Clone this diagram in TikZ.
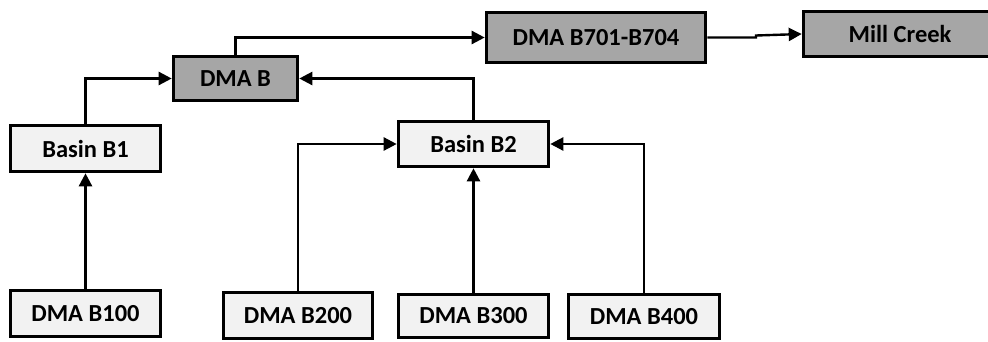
\documentclass[tikz,border=0pt]{standalone}
\usepackage{fontspec}
\setmainfont{Carlito}
\usetikzlibrary{arrows.meta}
\definecolor{darkfill}{HTML}{A6A6A6}
\definecolor{lightfill}{HTML}{F2F2F2}
\begin{document}
\begin{tikzpicture}[x=1pt,y=-1pt,
  box/.style={draw=black,line width=3.6pt,rectangle,inner sep=0pt,
    font=\fontsize{24.5}{28}\selectfont\bfseries},
  dbox/.style={box,fill=darkfill},
  lbox/.style={box,fill=lightfill},
  conn/.style={line width=2.4pt,-{Triangle[length=13pt,width=13pt]}}]
\useasboundingbox (0,0) rectangle (988,341);
\clip (0,0) rectangle (988,341);
\node[dbox,minimum width=124pt,minimum height=44pt] (dmab) at (235.5,78.5) {DMA B};
\node[dbox,minimum width=219pt,minimum height=50pt] (b701) at (596,37.5) {DMA B701-B704};
\node[dbox,minimum width=193pt,minimum height=45pt] (mill) at (900,34) {Mill Creek};
\node[lbox,minimum width=150pt,minimum height=46pt] (bb1) at (85.5,148.5) {Basin B1};
\node[lbox,minimum width=150pt,minimum height=45pt] (bb2) at (473.5,144) {Basin B2};
\node[lbox,minimum width=150pt,minimum height=46pt] (b100) at (85.5,313.5) {DMA B100};
\node[lbox,minimum width=149pt,minimum height=46pt] (b200) at (298,315.5) {DMA B200};
\node[lbox,minimum width=150pt,minimum height=43pt] (b300) at (473.5,316) {DMA B300};
\node[lbox,minimum width=151pt,minimum height=44pt] (b400) at (644,316.5) {DMA B400};
\coordinate (jog) at (756,0);
\draw[conn] (dmab.north) |- (b701.west);
\draw[conn] (b701.east) -- (b701.east -| jog) -- ([yshift=-1.5pt]jog |- mill.west) -- (mill.west);
\draw[conn] (bb1.north) |- (dmab.west);
\draw[conn] (bb2.north) |- (dmab.east);
\draw[conn] (b100.north) -- (bb1.south);
\draw[conn] (b200.north) |- (bb2.west);
\draw[conn] (b300.north) -- (bb2.south);
\draw[conn] (b400.north) |- (bb2.east);
\end{tikzpicture}
\end{document}
